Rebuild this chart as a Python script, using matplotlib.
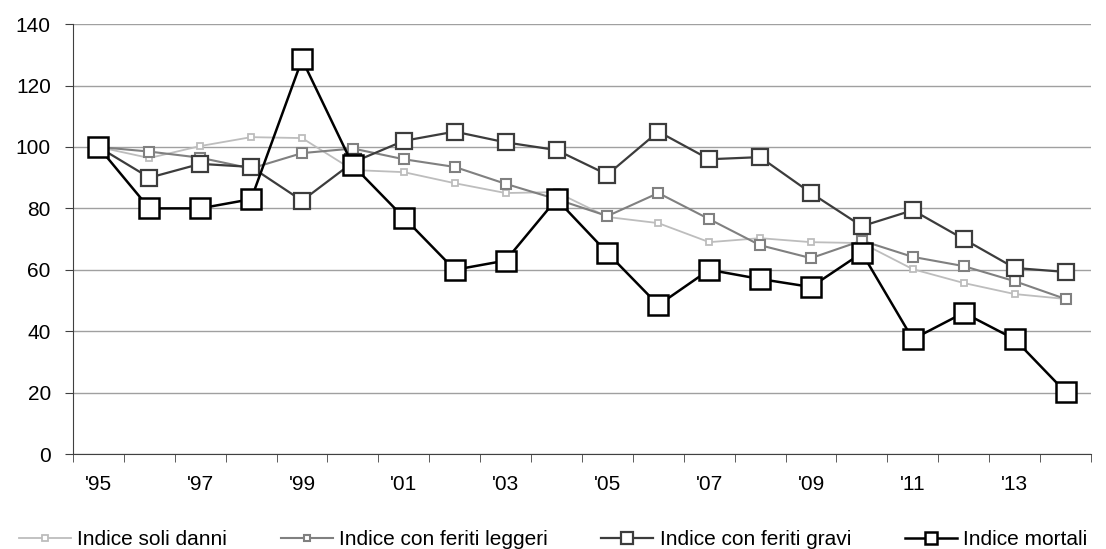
import numpy as np
import matplotlib.pyplot as plt
from matplotlib.lines import Line2D

plt.rcParams['font.family'] = ['Liberation Sans', 'DejaVu Sans']

years = ["'95", "'96", "'97", "'98", "'99", "'00", "'01", "'02", "'03", "'04",
         "'05", "'06", "'07", "'08", "'09", "'10", "'11", "'12", "'13", "'14"]

soli_danni = [100, 96.4, 100.3, 103.2, 102.9, 92.5, 91.8, 88.2, 85, 85.3,
              77.2, 75.2, 69, 70.3, 69, 68.7, 60.2, 55.7, 52.1, 50.5]
feriti_leggeri = [100, 98.5, 96.5, 93, 98, 99.5, 96, 93.5, 88, 83,
                  77.5, 85, 76.5, 68, 63.8, 69.5, 64.2, 61.2, 56.3, 50.5]
feriti_gravi = [100, 90, 94.5, 93.5, 82.5, 95, 102, 105, 101.5, 99,
                91, 105, 96, 96.7, 85, 74.2, 79.4, 70, 60.6, 59.3]
mortali = [100, 80, 80, 83, 128.5, 94, 77, 60, 63, 83,
           65.5, 48.5, 60, 57, 54.4, 65.5, 37.4, 46, 37.4, 20.2]

labels = ['Indice soli danni', 'Indice con feriti leggeri',
          'Indice con feriti gravi', 'Indice mortali']

fig = plt.figure(figsize=(11.06, 5.49), dpi=100)
ax = fig.add_axes([0.066, 0.173, 0.9204, 0.783])

x = np.arange(len(years))
# (values, colour, line width, marker size, legend marker size)
styles = [
    (soli_danni, '#BDBDBD', 1.3, 5, 4),
    (feriti_leggeri, '#808080', 1.5, 6.5, 5),
    (feriti_gravi, '#3C3C3C', 1.6, 12, 8),
    (mortali, '#000000', 1.8, 14.5, 8.5),
]
handles = []
for (vals, col, lw, ms, lms), lab in zip(styles, labels):
    ax.plot(x, vals, color=col, lw=lw, marker='s', ms=ms,
            mfc='white', mec=col, mew=lw, zorder=3)
    handles.append(Line2D([], [], color=col, lw=lw, marker='s',
                          ms=lms, mfc='white', mec=col, mew=lw))

ax.set_xlim(-0.5, len(years) - 0.5)
ax.set_ylim(0, 140)
ax.set_yticks(np.arange(0, 141, 20))
ax.yaxis.grid(True, color='#A0A0A0', lw=1)
ax.set_axisbelow(True)

ax.set_xticks(x[::2])
ax.set_xticklabels(years[::2])
ax.set_xticks(np.arange(-0.5, len(years), 1), minor=True)
ax.tick_params(axis='x', which='major', length=0, pad=15, labelsize=15)
ax.tick_params(axis='x', which='minor', length=6, color='#404040')
ax.tick_params(axis='y', length=6, color='#404040', labelsize=15, pad=10)

for s in ['top', 'right']:
    ax.spines[s].set_visible(False)
for s in ['left', 'bottom']:
    ax.spines[s].set_color('#404040')

fig.legend(handles, labels, loc='lower left', ncol=4, frameon=False,
           bbox_to_anchor=(0.0, -0.035, 1.0, 0.06), mode='expand',
           fontsize=15, handlelength=2.5, handletextpad=0.3)

fig.savefig('out.png', dpi=100)
